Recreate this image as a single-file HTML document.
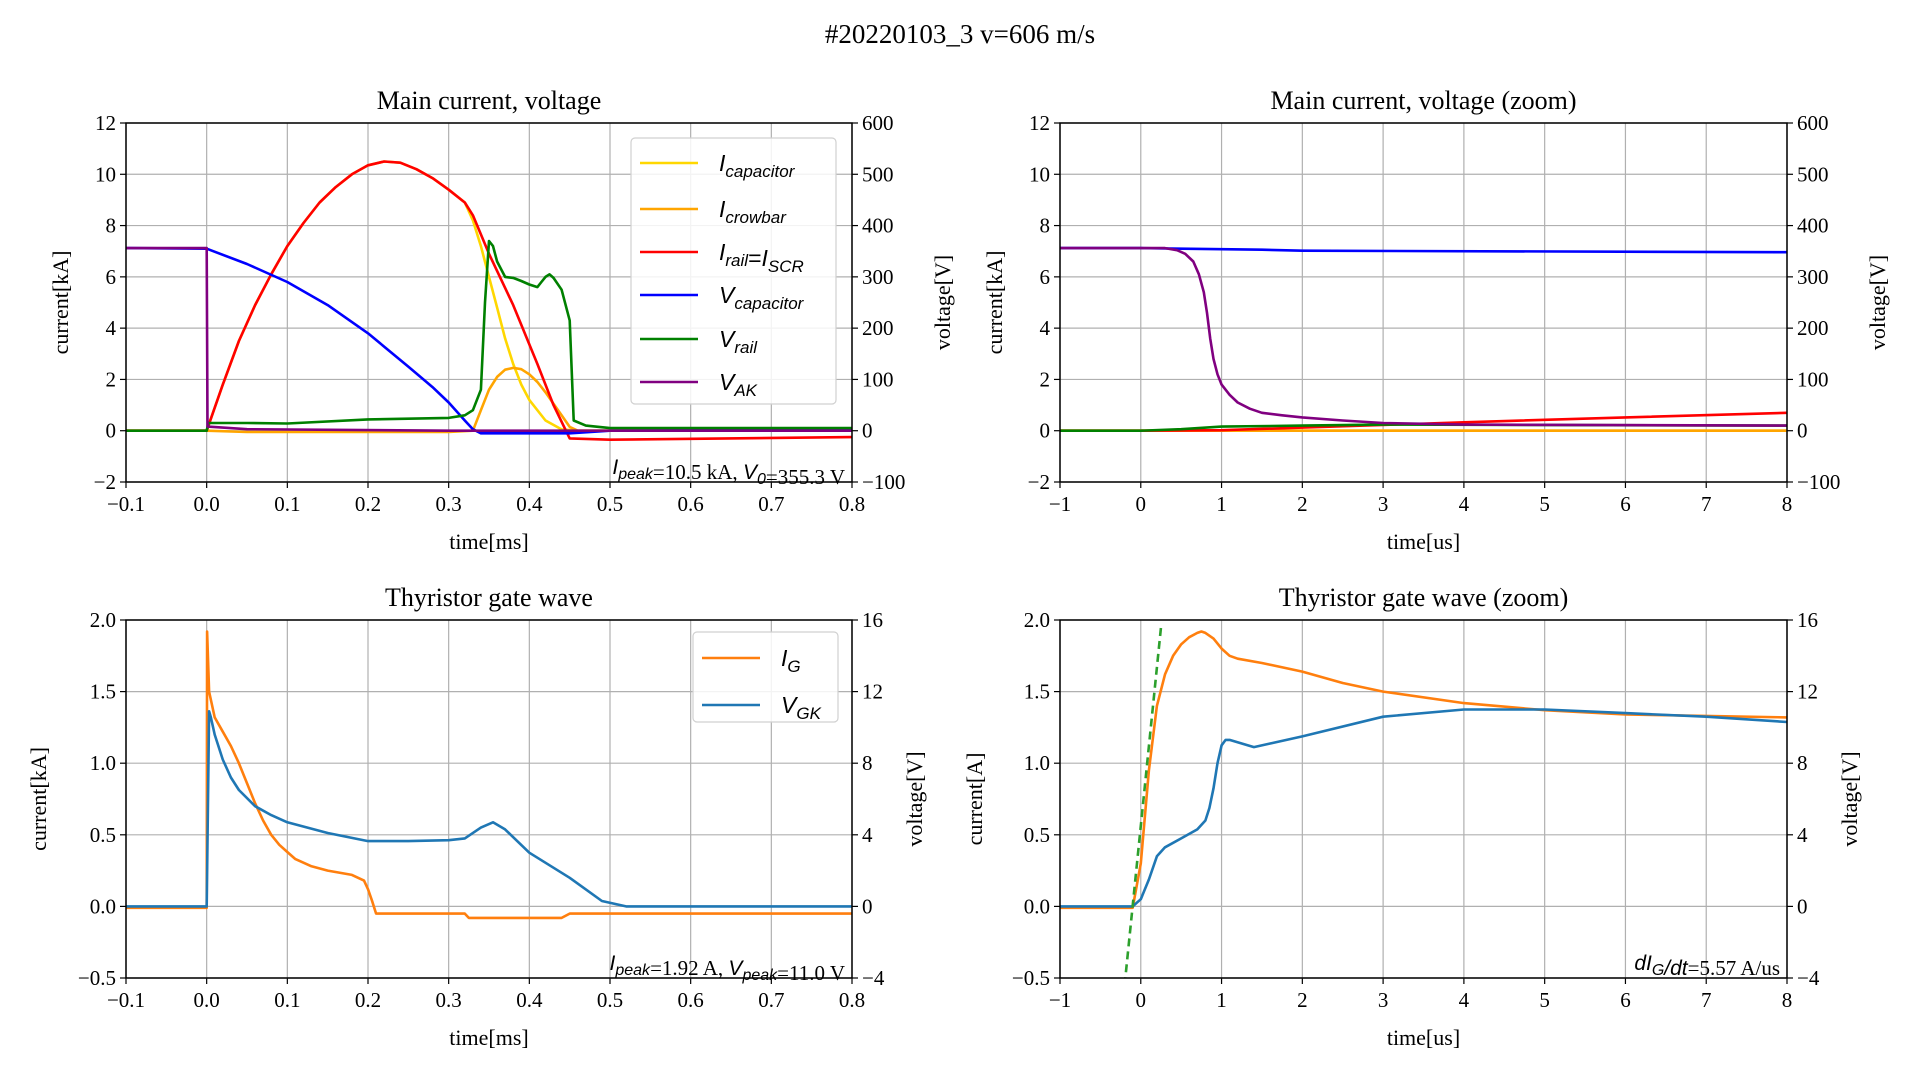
<!DOCTYPE html>
<html><head><meta charset="utf-8"><style>
html,body{margin:0;padding:0;background:#fff;}
svg{display:block;font-family:"Liberation Serif",serif;}
</style></head><body>
<svg id="fig" width="1920" height="1080" viewBox="0 0 1920 1080">
<text x="960" y="43" font-size="27" text-anchor="middle">#20220103_3 v=606 m/s</text>
</svg>
<script>
// ---------- data: top-left (time ms) ----------
const tlIrailT = [-0.1,0,0.02,0.04,0.06,0.08,0.1,0.12,0.14,0.16,0.18,0.2,0.22,0.24,0.26,0.28,0.3,0.32,0.33,0.35,0.38,0.41,0.43,0.45,0.5,0.8];
const tlIrailV = [0,0,1.8,3.5,4.9,6.1,7.2,8.1,8.9,9.5,10.0,10.35,10.5,10.45,10.2,9.85,9.4,8.9,8.4,6.9,4.9,2.6,1.0,-0.3,-0.35,-0.25];
const tlIcapT = [-0.1,0,0.02,0.04,0.06,0.08,0.1,0.12,0.14,0.16,0.18,0.2,0.22,0.24,0.26,0.28,0.3,0.32,0.33,0.34,0.35,0.36,0.37,0.38,0.39,0.4,0.42,0.44,0.46,0.8];
const tlIcapV = [0,0,1.8,3.5,4.9,6.1,7.2,8.1,8.9,9.5,10.0,10.35,10.5,10.45,10.2,9.85,9.4,8.9,8.2,7.2,6.0,4.8,3.6,2.6,1.8,1.2,0.4,0.05,0,0];
const tlIcrowT = [-0.1,0,0.05,0.3,0.33,0.34,0.35,0.36,0.37,0.38,0.39,0.4,0.41,0.42,0.43,0.44,0.45,0.46,0.8];
const tlIcrowV = [0,0,-0.05,-0.05,0.0,0.8,1.6,2.1,2.38,2.45,2.4,2.2,1.9,1.5,1.05,0.6,0.15,0,0];
const tlVcapT = [-0.1,0,0.05,0.1,0.15,0.2,0.25,0.28,0.3,0.32,0.33,0.34,0.36,0.45,0.5,0.8];
const tlVcapV = [356,355,325,290,245,190,125,85,55,20,3,-5,-5,-5,0,3];
const tlVrailT = [-0.1,0,0.002,0.05,0.1,0.2,0.3,0.32,0.33,0.34,0.345,0.35,0.355,0.36,0.37,0.38,0.39,0.4,0.41,0.415,0.42,0.425,0.43,0.44,0.45,0.455,0.47,0.5,0.8];
const tlVrailV = [0,0,15,15,14,22,25,30,40,80,250,370,360,330,300,298,292,285,280,290,300,305,298,275,215,20,10,5,5];
const tlVakT = [-0.1,0,0.001,0.05,0.3,0.8];
const tlVakV = [356,356,8,3,0,0];
// ---------- data: top-right (time us) ----------
const trIrailT = [-1,0,1,2,4,6,8];
const trIrailV = [0,0,0.02,0.12,0.33,0.52,0.7];
const trIcapT = [-1,8];
const trIcapV = [0,0];
const trVcapT = [-1,0,0.5,1.5,2,8];
const trVcapV = [356,356,355,353,351,348];
const trVrailT = [-1,0,0.5,1,2,3,8];
const trVrailV = [0,0,3,8,10,12,10];
const trVakT = [-1,0.3,0.45,0.55,0.65,0.72,0.78,0.82,0.86,0.9,0.95,1.0,1.1,1.2,1.35,1.5,1.75,2,2.5,3,4,8];
const trVakV = [356,356,352,345,330,305,270,230,180,140,110,90,70,55,43,35,30,26,20,15,12,10];
// ---------- data: bottom-left (time ms) ----------
const blIgT = [-0.1,0,0.0005,0.003,0.01,0.02,0.03,0.04,0.05,0.06,0.07,0.08,0.09,0.1,0.11,0.13,0.15,0.18,0.195,0.2,0.205,0.21,0.32,0.325,0.44,0.45,0.8];
const blIgV = [-0.01,-0.01,1.92,1.5,1.32,1.22,1.12,1.0,0.86,0.72,0.6,0.5,0.43,0.38,0.33,0.28,0.25,0.22,0.18,0.12,0.04,-0.05,-0.05,-0.08,-0.08,-0.05,-0.05];
const blVgkT = [-0.1,0,0.003,0.005,0.01,0.02,0.03,0.04,0.06,0.08,0.1,0.15,0.2,0.25,0.3,0.32,0.34,0.355,0.37,0.4,0.45,0.49,0.52,0.8];
const blVgkV = [0,0,10.9,10.6,9.6,8.2,7.2,6.5,5.6,5.1,4.7,4.1,3.65,3.65,3.7,3.8,4.4,4.7,4.3,3.0,1.6,0.3,0,0];
// ---------- data: bottom-right (time us) ----------
const brIgT = [-1,-0.1,0,0.1,0.2,0.3,0.4,0.5,0.6,0.7,0.75,0.8,0.9,1.0,1.1,1.2,1.5,2,2.5,3,4,5,6,8];
const brIgV = [-0.01,-0.01,0.3,0.95,1.4,1.62,1.75,1.83,1.88,1.91,1.92,1.91,1.87,1.8,1.75,1.73,1.7,1.64,1.56,1.5,1.42,1.37,1.34,1.32];
const brVgkT = [-1,-0.1,0,0.1,0.2,0.3,0.5,0.7,0.8,0.85,0.9,0.95,1.0,1.05,1.1,1.4,2,3,4,5,6,7,8];
const brVgkV = [0,0,0.4,1.5,2.8,3.3,3.8,4.3,4.8,5.5,6.6,8.0,9.0,9.3,9.3,8.9,9.5,10.6,11,11,10.8,10.6,10.3];
const brFitT = [-0.2,0.25];
const brFitV = [-0.55,1.95];
// ---------- ticks ----------
const xTicksMs = [-0.1,0,0.1,0.2,0.3,0.4,0.5,0.6,0.7,0.8];
const xTickLabMs = ["−0.1","0.0","0.1","0.2","0.3","0.4","0.5","0.6","0.7","0.8"];
const xTicksUs = [-1,0,1,2,3,4,5,6,7,8];
const xTickLabUs = ["−1","0","1","2","3","4","5","6","7","8"];
const yTicksTop = [-2,0,2,4,6,8,10,12];
const yTickLabTop = ["−2","0","2","4","6","8","10","12"];
const y2TicksTop = [-100,0,100,200,300,400,500,600];
const y2TickLabTop = ["−100","0","100","200","300","400","500","600"];
const yTicksBot = [-0.5,0,0.5,1.0,1.5,2.0];
const yTickLabBot = ["−0.5","0.0","0.5","1.0","1.5","2.0"];
const y2TicksBot = [-4,0,4,8,12,16];
const y2TickLabBot = ["−4","0","4","8","12","16"];

const NS = "http://www.w3.org/2000/svg";
const fig = document.getElementById('fig');
const SERIF = 'Liberation Serif, serif';
function mk(tag, attrs, parent){
  const e = document.createElementNS(NS, tag);
  for (const k in attrs) e.setAttribute(k, attrs[k]);
  (parent||fig).appendChild(e);
  return e;
}
function panel(p){
  const g = mk('g', {});
  
  
  const sx = v => p.x0 + (v - p.xmin) / (p.xmax - p.xmin) * (p.x1 - p.x0);
  const sy = v => p.y1 - (v - p.ymin) / (p.ymax - p.ymin) * (p.y1 - p.y0);
  const sy2 = v => p.y1 - (v - p.y2min) / (p.y2max - p.y2min) * (p.y1 - p.y0);
  p.xt.forEach((t,i) => {
    const l = mk('line', {x1:sx(t), x2:sx(t), y1:p.y0, y2:p.y1, stroke:'#b0b0b0', 'stroke-width':1.2}, g);
    
    
    const tk = mk('line', {x1:sx(t), x2:sx(t), y1:p.y1, y2:p.y1+6, stroke:'#000', 'stroke-width':1.2}, g);
    
    
    const tx = mk('text', {x:sx(t), y:p.y1+29, 'font-size':21, 'font-family':SERIF, 'text-anchor':'middle'}, g);
    
    
    tx.textContent = p.xl[i];
  });
  p.yt.forEach((t,i) => {
    const l = mk('line', {x1:p.x0, x2:p.x1, y1:sy(t), y2:sy(t), stroke:'#b0b0b0', 'stroke-width':1.2}, g);
    
    
    const tk = mk('line', {x1:p.x0-6, x2:p.x0, y1:sy(t), y2:sy(t), stroke:'#000', 'stroke-width':1.2}, g);
    
    
    const tx = mk('text', {x:p.x0-10, y:sy(t)+7, 'font-size':21, 'font-family':SERIF, 'text-anchor':'end'}, g);
    
    
    tx.textContent = p.yl[i];
  });
  p.y2t.forEach((t,i) => {
    const tk = mk('line', {x1:p.x1, x2:p.x1+6, y1:sy2(t), y2:sy2(t), stroke:'#000', 'stroke-width':1.2}, g);
    
    
    const tx = mk('text', {x:p.x1+10, y:sy2(t)+7, 'font-size':21, 'font-family':SERIF, 'text-anchor':'start'}, g);
    
    
    tx.textContent = p.y2l[i];
  });
  const cid = 'clip-' + p.name;
  const cp = mk('clipPath', {id:cid}, g);
  mk('rect', {x:p.x0, y:p.y0, width:p.x1-p.x0, height:p.y1-p.y0}, cp);
  const sg = mk('g', {'clip-path':'url(#'+cid+')'}, g);
  
  
  p.series.forEach(s => {
    const f = s.right ? sy2 : sy;
    const pts = s.t.map((t,i) => sx(t).toFixed(1) + ',' + f(s.v[i]).toFixed(1)).join(' ');
    const pl = mk('polyline', {points:pts, fill:'none', stroke:s.c, 'stroke-width':s.w||2.6, 'stroke-linejoin':'round', 'stroke-dasharray':s.dash||'none'}, sg);
    
    
  });
  const fr = mk('rect', {x:p.x0, y:p.y0, width:p.x1-p.x0, height:p.y1-p.y0, fill:'none', stroke:'#000', 'stroke-width':1.5}, g);
  
  
  const ti = mk('text', {x:(p.x0+p.x1)/2, y:p.y0-14, 'font-size':26, 'font-family':SERIF, 'text-anchor':'middle'}, g);
  
  
  ti.textContent = p.title;
  const xl = mk('text', {x:(p.x0+p.x1)/2, y:p.y1+67, 'font-size':22, 'font-family':SERIF, 'text-anchor':'middle'}, g);
  
  
  xl.textContent = p.xlabel;
  const cy = (p.y0+p.y1)/2;
  const yl = mk('text', {x:p.ylx, y:cy, 'font-size':22, 'font-family':SERIF, 'text-anchor':'middle', transform:'rotate(-90 '+p.ylx+' '+cy+')'}, g);
  
  
  yl.textContent = p.ylabel;
  const y2l = mk('text', {x:p.y2lx, y:cy, 'font-size':22, 'font-family':SERIF, 'text-anchor':'middle', transform:'rotate(-90 '+p.y2lx+' '+cy+')'}, g);
  
  
  y2l.textContent = 'voltage[V]';
  return g;
}
const topAx = {y0:123, y1:482, ymin:-2, ymax:12, y2min:-100, y2max:600, yt:yTicksTop, yl:yTickLabTop, y2t:y2TicksTop, y2l:y2TickLabTop};
const botAx = {y0:620, y1:978, ymin:-0.5, ymax:2.0, y2min:-4, y2max:16, yt:yTicksBot, yl:yTickLabBot, y2t:y2TicksBot, y2l:y2TickLabBot};
const msAx = {xmin:-0.1, xmax:0.8, xt:xTicksMs, xl:xTickLabMs, xlabel:'time[ms]'};
const usAx = {xmin:-1, xmax:8, xt:xTicksUs, xl:xTickLabUs, xlabel:'time[us]'};

panel(Object.assign({name:'main-panel', title:'Main current, voltage', x0:126, x1:852, ylabel:'current[kA]', ylx:68, y2lx:950,
  series:[
    {t:tlIcapT, v:tlIcapV, c:'#ffd700', n:'i-capacitor-line'},
    {t:tlIcrowT, v:tlIcrowV, c:'#ffa500', n:'i-crowbar-line'},
    {t:tlIrailT, v:tlIrailV, c:'#ff0000', n:'i-rail-line'},
    {t:tlVcapT, v:tlVcapV, c:'#0000ff', n:'v-capacitor-line', right:true},
    {t:tlVrailT, v:tlVrailV, c:'#008000', n:'v-rail-line', right:true},
    {t:tlVakT, v:tlVakV, c:'#800080', n:'v-ak-line', right:true}
  ]}, topAx, msAx));
panel(Object.assign({name:'main-zoom-panel', title:'Main current, voltage (zoom)', x0:1060, x1:1787, ylabel:'current[kA]', ylx:1002, y2lx:1885,
  series:[
    {t:trIcapT, v:trIcapV, c:'#ffd700', n:'i-capacitor-line'},
    {t:trIcapT, v:trIcapV, c:'#ffa500', n:'i-crowbar-line'},
    {t:trIrailT, v:trIrailV, c:'#ff0000', n:'i-rail-line'},
    {t:trVcapT, v:trVcapV, c:'#0000ff', n:'v-capacitor-line', right:true},
    {t:trVrailT, v:trVrailV, c:'#008000', n:'v-rail-line', right:true},
    {t:trVakT, v:trVakV, c:'#800080', n:'v-ak-line', right:true}
  ]}, topAx, usAx));
panel(Object.assign({name:'gate-panel', title:'Thyristor gate wave', x0:126, x1:852, ylabel:'current[kA]', ylx:46, y2lx:922,
  series:[
    {t:blIgT, v:blIgV, c:'#ff7f0e', n:'i-g-line'},
    {t:blVgkT, v:blVgkV, c:'#1f77b4', n:'v-gk-line', right:true}
  ]}, botAx, msAx));
panel(Object.assign({name:'gate-zoom-panel', title:'Thyristor gate wave (zoom)', x0:1060, x1:1787, ylabel:'current[A]', ylx:982, y2lx:1857,
  series:[
    {t:brIgT, v:brIgV, c:'#ff7f0e', n:'i-g-line'},
    {t:brVgkT, v:brVgkV, c:'#1f77b4', n:'v-gk-line', right:true},
    {t:brFitT, v:brFitV, c:'#2ca02c', n:'dig-dt-fit-line', dash:'8,5'}
  ]}, botAx, usAx));

function legend(name, x, y, w, h, items){
  const g = mk('g', {});
  
  
  const r = mk('rect', {x:x, y:y, width:w, height:h, rx:4, fill:'#fff', 'fill-opacity':0.85, stroke:'#d0d0d0', 'stroke-width':1.2}, g);
  
  
  items.forEach(it => {
    const l = mk('line', {x1:x+9, x2:x+67, y1:it.y, y2:it.y, stroke:it.c, 'stroke-width':2.6}, g);
    
    
    const t = mk('text', {x:x+88, y:it.y+8, 'font-size':23, 'font-family':'Liberation Sans, sans-serif', 'font-style':'italic'}, g);
    
    
    t.innerHTML = it.h;
  });
}
const sub = s => '<tspan font-size="17" dy="6">' + s + '</tspan><tspan dy="-6"></tspan>';
legend('main-legend', 631, 138, 205, 266, [
  {y:163, c:'#ffd700', h:'I'+sub('capacitor')},
  {y:209, c:'#ffa500', h:'I'+sub('crowbar')},
  {y:252, c:'#ff0000', h:'I'+sub('rail')+'<tspan font-style="normal">=</tspan>I'+sub('SCR')},
  {y:295, c:'#0000ff', h:'V'+sub('capacitor')},
  {y:339, c:'#008000', h:'V'+sub('rail')},
  {y:382, c:'#800080', h:'V'+sub('AK')}
]);
legend('gate-legend', 693, 632, 145, 90, [
  {y:658, c:'#ff7f0e', h:'I'+sub('G')},
  {y:705, c:'#1f77b4', h:'V'+sub('GK')}
]);
function note(name, xr, y, html){
  const t = mk('text', {x:xr, y:y, 'font-size':21, 'font-family':SERIF, 'text-anchor':'end'});
  
  
  t.innerHTML = html;
}
const itx = s => '<tspan font-family="Liberation Sans, sans-serif" font-style="italic">' + s + '</tspan>';
const isub = s => '<tspan font-family="Liberation Sans, sans-serif" font-style="italic" font-size="16" dy="5">' + s + '</tspan><tspan dy="-5"></tspan>';
note('main-peak-annotation', 845, 474, itx('I')+isub('peak')+'=10.5 kA, '+itx('V')+isub('0')+'=355.3 V');
note('gate-peak-annotation', 845, 970, itx('I')+isub('peak')+'=1.92 A, '+itx('V')+isub('peak')+'=11.0 V');
note('didt-annotation', 1780, 970, itx('dI')+isub('G')+itx('/dt')+'=5.57 A/us');
</script>
</body></html>
